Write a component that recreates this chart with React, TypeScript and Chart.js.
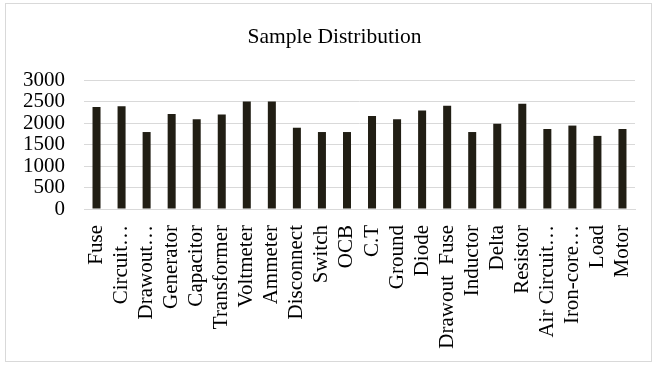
import React, { useEffect, useRef } from "react";
import { Chart, registerables } from "chart.js";

Chart.register(...registerables);

const categories = [
  "Fuse", "Circuit…", "Drawout…", "Generator", "Capacitor", "Transformer",
  "Voltmeter", "Ammeter", "Disconnect", "Switch", "OCB", "C.T", "Ground",
  "Diode", "Drawout  Fuse", "Inductor", "Delta", "Resistor", "Air Circuit…",
  "Iron-core…", "Load", "Motor",
];
const values = [
  2370, 2390, 1790, 2210, 2090, 2200, 2500, 2500, 1890, 1790, 1790, 2160,
  2090, 2290, 2400, 1790, 1980, 2450, 1860, 1940, 1700, 1860,
];
const yTicks = [0, 500, 1000, 1500, 2000, 2500, 3000];
const title = "Sample Distribution";

const FONT = "'Liberation Serif', 'Times New Roman', serif";

const titlePlugin = {
  id: "centeredTitle",
  afterDraw(chart: any) {
    const ctx = chart.ctx;
    ctx.save();
    ctx.font = `21.5px ${FONT}`;
    ctx.fillStyle = "#000";
    ctx.textAlign = "center";
    ctx.textBaseline = "middle";
    ctx.fillText(title, 334.5, 37.5);
    ctx.restore();
  },
};

export default function App() {
  const ref = useRef<HTMLCanvasElement>(null);
  useEffect(() => {
    document.body.style.margin = "0";
    const chart = new Chart(ref.current!, {
      type: "bar",
      data: {
        labels: categories,
        datasets: [
          {
            data: values,
            backgroundColor: "#211e14",
            borderWidth: 0,
            barPercentage: 0.32,
            categoryPercentage: 1,
          },
        ],
      },
      plugins: [titlePlugin],
      options: {
        animation: false,
        responsive: false,
        layout: { padding: { left: 0, right: 24, top: 80, bottom: 0 } },
        plugins: {
          legend: { display: false },
          tooltip: { enabled: false },
          title: { display: false },
        },
        scales: {
          x: {
            grid: { display: false },
            border: { color: "#d9d9d9" },
            ticks: {
              color: "#000",
              font: { family: FONT, size: 21 },
              minRotation: 90,
              maxRotation: 90,
              autoSkip: false,
              padding: 8,
            },
            afterFit: (s: any) => {
              s.height = 157;
            },
          },
          y: {
            min: 0,
            max: 3000,
            afterBuildTicks: (s: any) => {
              s.ticks = yTicks.map((v) => ({ value: v }));
            },
            grid: { color: "#d9d9d9", drawTicks: false, lineWidth: 1 },
            border: { display: false },
            ticks: {
              color: "#000",
              font: { family: FONT, size: 21 },
              padding: 19,
              autoSkip: false,
              callback: (v: any) => String(v),
            },
            afterFit: (s: any) => {
              s.width = 84;
            },
          },
        },
      },
    });
    return () => chart.destroy();
  }, []);
  return (
    <div style={{ position: "relative", width: 659, height: 366 }}>
      <div
        style={{
          position: "absolute",
          left: 5,
          top: 3,
          width: 647,
          height: 359,
          border: "1px solid #d9d9d9",
          boxSizing: "border-box",
        }}
      />
      <canvas
        ref={ref}
        width={659}
        height={366}
        style={{ position: "absolute", left: 0, top: 0 }}
      />
    </div>
  );
}
